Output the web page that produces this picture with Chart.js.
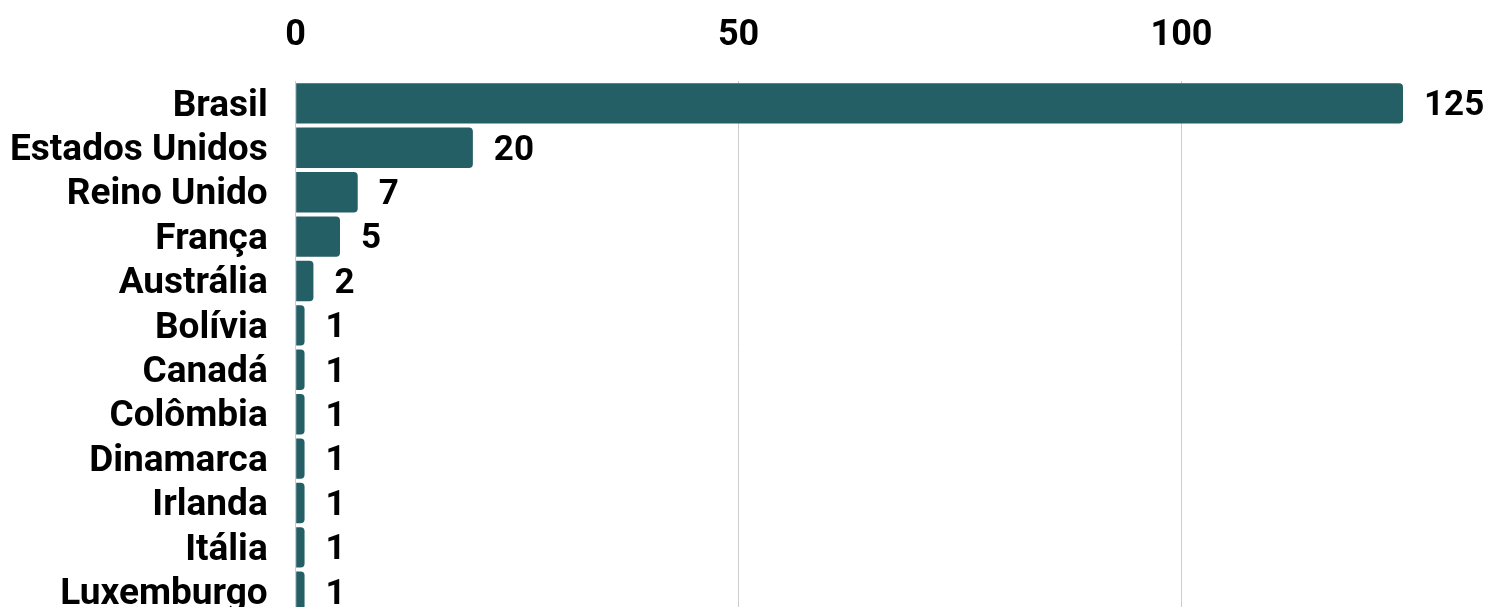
<!DOCTYPE html>
<html>
<head>
<meta charset="utf-8">
<script src="https://cdn.jsdelivr.net/npm/chart.js@4"></script>
<style>
html,body{margin:0;padding:0;background:#fff;overflow:hidden;}
canvas{display:block;}
</style>
</head>
<body>
<canvas id="c" width="1488" height="614" style="width:1488px;height:614px"></canvas>
<script>
const categories = ["Brasil","Estados Unidos","Reino Unido","França","Austrália","Bolívia","Canadá","Colômbia","Dinamarca","Irlanda","Itália","Luxemburgo"];
const values = [125,20,7,5,2,1,1,1,1,1,1,1];
const xTicks = [0,50,100];

const FONT = "Roboto";
const valueLabels = {
  id: 'valueLabels',
  afterDatasetsDraw(chart) {
    const ctx = chart.ctx;
    const meta = chart.getDatasetMeta(0);
    ctx.save();
    ctx.font = "bold 35px " + FONT;
    ctx.fillStyle = "#000";
    ctx.textAlign = "left";
    ctx.textBaseline = "middle";
    meta.data.forEach((bar, i) => {
      ctx.fillText(String(values[i]), bar.x + 21, bar.y + 3);
    });
    ctx.restore();
  }
};

new Chart(document.getElementById('c'), {
  type: 'bar',
  data: {
    labels: categories,
    datasets: [{
      data: values,
      backgroundColor: '#245f66',
      borderWidth: 0,
      borderRadius: 4,
      borderSkipped: 'start',
      barPercentage: 0.91,
      categoryPercentage: 1.0
    }]
  },
  options: {
    indexAxis: 'y',
    responsive: false,
    devicePixelRatio: 1,
    animation: false,
    layout: { padding: { left: -18, right: 85, top: -10, bottom: 0 } },
    plugins: { legend: { display: false }, tooltip: { enabled: false } },
    scales: {
      x: {
        position: 'top',
        min: 0, max: 125,
        afterBuildTicks(axis) { axis.ticks = xTicks.map(v => ({ value: v })); },
        grid: { color: '#cccccc', lineWidth: 1, drawTicks: false, drawOnChartArea: true },
        border: { display: false },
        ticks: { color: '#000', font: { family: FONT, size: 36, weight: 'bold' }, padding: 24, maxRotation: 0 }
      },
      y: {
        grid: { display: false, drawTicks: false },
        border: { display: false },
        afterFit(axis) { axis.paddingTop = 0; axis.paddingBottom = 0; },
        ticks: { color: '#000', font: { family: FONT, size: 37, weight: 'bold' }, padding: 28, labelOffset: 3, autoSkip: false }
      }
    }
  },
  plugins: [valueLabels]
});
</script>
</body>
</html>
